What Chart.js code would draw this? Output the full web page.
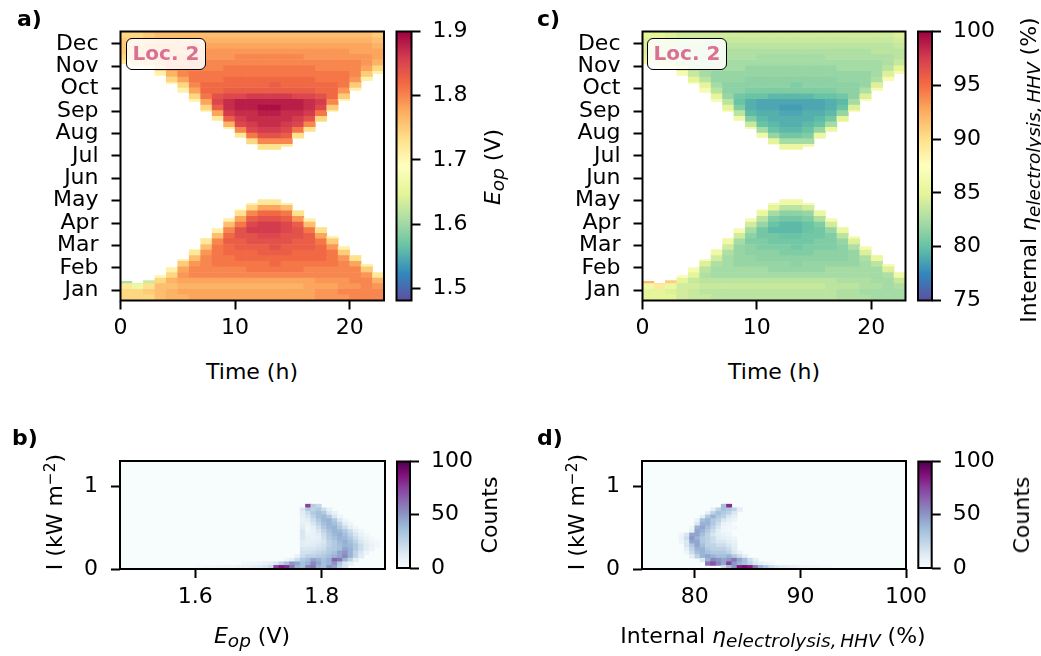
<!DOCTYPE html>
<html>
<head>
<meta charset="utf-8">
<script src="https://cdn.jsdelivr.net/npm/chart.js@4.4.1/dist/chart.umd.min.js"></script>
<style>
body { margin: 0; background: #fff; width: 1041px; height: 656px; position: relative; overflow: hidden; font-family: 'DejaVu Sans'; }
canvas { position: absolute; }
.t { position: absolute; font-size: 22px; line-height: 1; white-space: nowrap; color: #000; }
.b { font-weight: bold; }
.c { transform: translateX(-50%); }
.r { transform: translate(-50%, -50%) rotate(-90deg); }
.t sub { font-size: 84%; vertical-align: baseline; position: relative; top: 0.22em; font-style: italic; }
.t sup { font-size: 70%; vertical-align: baseline; position: relative; top: -0.45em; }
.loc { position: absolute; box-sizing: border-box; width: 80px; height: 32px; border: 1.5px solid #000; border-radius: 6px;
       background: rgba(255,255,255,0.85); color: palevioletred; font: bold 20px 'DejaVu Sans'; line-height: 29px; text-align: center; }
</style>
</head>
<body>
<canvas id="ca" width="400" height="350" style="left:0;top:0"></canvas>
<canvas id="cba" width="90" height="350" style="left:388px;top:0"></canvas>
<canvas id="cc" width="400" height="350" style="left:520px;top:0"></canvas>
<canvas id="cbc" width="100" height="350" style="left:910px;top:0"></canvas>
<canvas id="cb" width="400" height="236" style="left:0;top:420px"></canvas>
<canvas id="cbb" width="90" height="236" style="left:388px;top:420px"></canvas>
<canvas id="cd" width="420" height="236" style="left:520px;top:420px"></canvas>
<canvas id="cbd" width="100" height="236" style="left:910px;top:420px"></canvas>

<div class="t b" style="left:17px;top:8px">a)</div>
<div class="t b" style="left:537px;top:8px">c)</div>
<div class="t b" style="left:12px;top:427px">b)</div>
<div class="t b" style="left:537px;top:427px">d)</div>

<div class="loc" style="left:126px;top:38px">Loc. 2</div>
<div class="loc" style="left:647px;top:38px">Loc. 2</div>

<div class="t c" style="left:252px;top:361px">Time (h)</div>
<div class="t c" style="left:774px;top:361px">Time (h)</div>
<div class="t r" style="left:493px;top:167px"><i>E</i><sub>op</sub> (V)</div>
<div class="t r" style="left:1029px;top:170px">Internal <i>η</i><sub>electrolysis,&thinsp;HHV</sub> (%)</div>

<div class="t c" style="left:252px;top:625px"><i>E</i><sub>op</sub> (V)</div>
<div class="t c" style="left:773px;top:625px">Internal <i>η</i><sub>electrolysis,&thinsp;HHV</sub> (%)</div>
<div class="t r" style="left:55px;top:512px">I (kW m<sup>−2</sup>)</div>
<div class="t r" style="left:577px;top:512px">I (kW m<sup>−2</sup>)</div>
<div class="t r" style="left:490px;top:515px">Counts</div>
<div class="t r" style="left:1022px;top:515px">Counts</div>

<script>
// ---- heatmap axes ----
const hours = [0,1,2,3,4,5,6,7,8,9,10,11,12,13,14,15,16,17,18,19,20,21,22];
const timeTicks = [0, 10, 20];
const months = ['Jan','Feb','Mar','Apr','May','Jun','Jul','Aug','Sep','Oct','Nov','Dec'];
const monthTicks = [0.45,1.45,2.45,3.45,4.45,5.45,6.45,7.45,8.45,9.45,10.45,11.45];
const rowStep = 0.25; // quarter-month rows

// operating window per hour (in months from 1 Jan)
const janMayEnd = [0.85,0.76,0.89,1.12,1.47,1.83,2.27,2.77,3.21,3.66,4.06,4.33,4.50,4.50,4.33,4.01,3.66,3.26,2.85,2.41,2.01,1.61,1.25];
const julDecStart = [10.57,10.44,10.35,10.04,9.68,9.28,8.88,8.43,8.03,7.67,7.27,6.96,6.73,6.73,6.87,7.23,7.54,7.98,8.43,8.92,9.37,9.81,10.12];

// E_op (V) per hour, rows from 1 Jan upwards
const eopJanMay = [
  [1.74,1.74,1.72,1.61],
  [1.74,1.74,1.66,1.62],
  [1.74,1.75,1.73,1.63],
  [1.76,1.76,1.76,1.74,1.70],
  [1.77,1.77,1.76,1.77,1.74,1.71],
  [1.77,1.78,1.77,1.78,1.79,1.78,1.75,1.71],
  [1.78,1.78,1.77,1.78,1.80,1.80,1.79,1.76,1.72,1.70],
  [1.78,1.78,1.77,1.78,1.80,1.80,1.80,1.80,1.79,1.76,1.72,1.70],
  [1.78,1.78,1.77,1.78,1.80,1.80,1.81,1.81,1.81,1.81,1.80,1.76,1.71],
  [1.78,1.78,1.77,1.78,1.80,1.80,1.81,1.81,1.82,1.82,1.83,1.82,1.80,1.76,1.71],
  [1.78,1.78,1.77,1.78,1.80,1.80,1.81,1.82,1.82,1.83,1.83,1.84,1.84,1.81,1.78,1.73,1.70],
  [1.78,1.78,1.77,1.78,1.80,1.81,1.81,1.82,1.82,1.83,1.84,1.84,1.86,1.85,1.83,1.80,1.74,1.71],
  [1.78,1.78,1.77,1.78,1.80,1.81,1.81,1.82,1.83,1.83,1.84,1.85,1.86,1.86,1.84,1.82,1.78,1.72],
  [1.78,1.78,1.77,1.78,1.80,1.81,1.82,1.82,1.83,1.84,1.84,1.85,1.86,1.86,1.84,1.82,1.78,1.72],
  [1.78,1.78,1.77,1.78,1.80,1.81,1.81,1.82,1.83,1.83,1.84,1.84,1.85,1.85,1.83,1.81,1.76,1.71],
  [1.78,1.78,1.77,1.78,1.80,1.81,1.81,1.82,1.82,1.83,1.83,1.84,1.84,1.83,1.79,1.73,1.70],
  [1.78,1.78,1.78,1.78,1.80,1.80,1.81,1.82,1.82,1.83,1.83,1.83,1.81,1.76,1.71],
  [1.79,1.79,1.78,1.79,1.80,1.80,1.81,1.82,1.82,1.82,1.81,1.78,1.73,1.70],
  [1.79,1.79,1.78,1.79,1.80,1.80,1.81,1.81,1.81,1.79,1.75,1.71],
  [1.79,1.80,1.79,1.79,1.80,1.80,1.80,1.79,1.75,1.71],
  [1.80,1.80,1.79,1.80,1.80,1.80,1.78,1.73,1.70],
  [1.80,1.80,1.80,1.80,1.79,1.75,1.71],
  [1.80,1.80,1.79,1.77,1.72]
];
// E_op (V) per hour, rows from 31 Dec downwards
const eopJulDec = [
  [1.74,1.75,1.75,1.75,1.74,1.72],
  [1.74,1.75,1.76,1.76,1.76,1.74,1.71],
  [1.75,1.76,1.77,1.77,1.77,1.75,1.71],
  [1.76,1.77,1.78,1.78,1.78,1.78,1.75,1.71],
  [1.76,1.77,1.78,1.78,1.79,1.79,1.79,1.77,1.74,1.71],
  [1.76,1.77,1.78,1.78,1.79,1.79,1.80,1.80,1.78,1.74,1.71],
  [1.76,1.77,1.78,1.78,1.79,1.80,1.80,1.81,1.81,1.80,1.78,1.74,1.71],
  [1.76,1.77,1.78,1.79,1.79,1.80,1.80,1.81,1.81,1.82,1.82,1.81,1.78,1.74,1.71],
  [1.76,1.77,1.78,1.79,1.79,1.80,1.80,1.81,1.81,1.82,1.82,1.84,1.85,1.83,1.78,1.72],
  [1.76,1.77,1.78,1.79,1.79,1.80,1.81,1.81,1.82,1.82,1.83,1.85,1.87,1.87,1.86,1.83,1.77,1.71],
  [1.76,1.77,1.78,1.79,1.80,1.80,1.81,1.81,1.82,1.82,1.83,1.85,1.88,1.88,1.87,1.86,1.85,1.80,1.72],
  [1.76,1.77,1.78,1.79,1.80,1.80,1.81,1.81,1.82,1.82,1.83,1.86,1.88,1.88,1.87,1.87,1.86,1.85,1.81,1.74,1.70],
  [1.76,1.77,1.78,1.79,1.80,1.80,1.81,1.81,1.82,1.82,1.83,1.86,1.88,1.89,1.88,1.87,1.87,1.86,1.84,1.80,1.73,1.70],
  [1.76,1.77,1.78,1.79,1.80,1.80,1.81,1.81,1.82,1.83,1.83,1.86,1.88,1.89,1.88,1.87,1.87,1.86,1.84,1.80,1.73,1.70],
  [1.76,1.77,1.78,1.79,1.80,1.80,1.81,1.81,1.82,1.82,1.83,1.86,1.88,1.88,1.87,1.87,1.86,1.85,1.83,1.80,1.72],
  [1.76,1.77,1.78,1.79,1.80,1.80,1.81,1.81,1.82,1.82,1.83,1.85,1.88,1.88,1.87,1.86,1.85,1.81,1.73,1.70],
  [1.76,1.77,1.78,1.79,1.79,1.80,1.81,1.81,1.82,1.82,1.83,1.85,1.87,1.87,1.86,1.84,1.80,1.73],
  [1.76,1.77,1.78,1.79,1.79,1.80,1.80,1.81,1.81,1.82,1.82,1.84,1.86,1.85,1.81,1.74,1.70],
  [1.76,1.77,1.78,1.79,1.79,1.80,1.80,1.81,1.81,1.82,1.82,1.82,1.80,1.75,1.71],
  [1.76,1.77,1.78,1.79,1.79,1.80,1.80,1.81,1.81,1.81,1.79,1.75,1.71],
  [1.76,1.77,1.78,1.78,1.79,1.80,1.80,1.80,1.79,1.75,1.71],
  [1.76,1.77,1.78,1.78,1.79,1.79,1.78,1.75,1.71],
  [1.75,1.76,1.77,1.78,1.78,1.77,1.74,1.71]
];

// internal efficiency (%) per hour, rows from 1 Jan upwards
const etaJanMay = [
  [85.1,85.1,86.1,92.0],
  [85.1,85.1,89.2,91.4],
  [85.1,84.6,85.6,90.9],
  [84.1,84.1,84.1,85.1,87.1],
  [83.7,83.7,84.1,83.7,85.1,86.6],
  [83.7,83.2,83.7,83.2,82.7,83.2,84.6,86.6],
  [83.2,83.2,83.7,83.2,82.3,82.3,82.7,84.1,86.1,87.1],
  [83.2,83.2,83.7,83.2,82.3,82.3,82.3,82.3,82.7,84.1,86.1,87.1],
  [83.2,83.2,83.7,83.2,82.3,82.3,81.8,81.8,81.8,81.8,82.3,84.1,86.6],
  [83.2,83.2,83.7,83.2,82.3,82.3,81.8,81.8,81.4,81.4,80.9,81.4,82.3,84.1,86.6],
  [83.2,83.2,83.7,83.2,82.3,82.3,81.8,81.4,81.4,80.9,80.9,80.5,80.5,81.8,83.2,85.6,87.1],
  [83.2,83.2,83.7,83.2,82.3,81.8,81.8,81.4,81.4,80.9,80.5,80.5,79.6,80.1,80.9,82.3,85.1,86.6],
  [83.2,83.2,83.7,83.2,82.3,81.8,81.8,81.4,80.9,80.9,80.5,80.1,79.6,79.6,80.5,81.4,83.2,86.1],
  [83.2,83.2,83.7,83.2,82.3,81.8,81.4,81.4,80.9,80.5,80.5,80.1,79.6,79.6,80.5,81.4,83.2,86.1],
  [83.2,83.2,83.7,83.2,82.3,81.8,81.8,81.4,80.9,80.9,80.5,80.5,80.1,80.1,80.9,81.8,84.1,86.6],
  [83.2,83.2,83.7,83.2,82.3,81.8,81.8,81.4,81.4,80.9,80.9,80.5,80.5,80.9,82.7,85.6,87.1],
  [83.2,83.2,83.2,83.2,82.3,82.3,81.8,81.4,81.4,80.9,80.9,80.9,81.8,84.1,86.6],
  [82.7,82.7,83.2,82.7,82.3,82.3,81.8,81.4,81.4,81.4,81.8,83.2,85.6,87.1],
  [82.7,82.7,83.2,82.7,82.3,82.3,81.8,81.8,81.8,82.7,84.6,86.6],
  [82.7,82.3,82.7,82.7,82.3,82.3,82.3,82.7,84.6,86.6],
  [82.3,82.3,82.7,82.3,82.3,82.3,83.2,85.6,87.1],
  [82.3,82.3,82.3,82.3,82.7,84.6,86.6],
  [82.3,82.3,82.7,83.7,86.1]
];
// internal efficiency (%) per hour, rows from 31 Dec downwards
const etaJulDec = [
  [85.1,84.6,84.6,84.6,85.1,86.1],
  [85.1,84.6,84.1,84.1,84.1,85.1,86.6],
  [84.6,84.1,83.7,83.7,83.7,84.6,86.6],
  [84.1,83.7,83.2,83.2,83.2,83.2,84.6,86.6],
  [84.1,83.7,83.2,83.2,82.7,82.7,82.7,83.7,85.1,86.6],
  [84.1,83.7,83.2,83.2,82.7,82.7,82.3,82.3,83.2,85.1,86.6],
  [84.1,83.7,83.2,83.2,82.7,82.3,82.3,81.8,81.8,82.3,83.2,85.1,86.6],
  [84.1,83.7,83.2,82.7,82.7,82.3,82.3,81.8,81.8,81.4,81.4,81.8,83.2,85.1,86.6],
  [84.1,83.7,83.2,82.7,82.7,82.3,82.3,81.8,81.8,81.4,81.4,80.5,80.1,80.9,83.2,86.1],
  [84.1,83.7,83.2,82.7,82.7,82.3,81.8,81.8,81.4,81.4,80.9,80.1,79.2,79.2,79.6,80.9,83.7,86.6],
  [84.1,83.7,83.2,82.7,82.3,82.3,81.8,81.8,81.4,81.4,80.9,80.1,78.8,78.8,79.2,79.6,80.1,82.3,86.1],
  [84.1,83.7,83.2,82.7,82.3,82.3,81.8,81.8,81.4,81.4,80.9,79.6,78.8,78.8,79.2,79.2,79.6,80.1,81.8,85.1,87.1],
  [84.1,83.7,83.2,82.7,82.3,82.3,81.8,81.8,81.4,81.4,80.9,79.6,78.8,78.4,78.8,79.2,79.2,79.6,80.5,82.3,85.6,87.1],
  [84.1,83.7,83.2,82.7,82.3,82.3,81.8,81.8,81.4,80.9,80.9,79.6,78.8,78.4,78.8,79.2,79.2,79.6,80.5,82.3,85.6,87.1],
  [84.1,83.7,83.2,82.7,82.3,82.3,81.8,81.8,81.4,81.4,80.9,79.6,78.8,78.8,79.2,79.2,79.6,80.1,80.9,82.3,86.1],
  [84.1,83.7,83.2,82.7,82.3,82.3,81.8,81.8,81.4,81.4,80.9,80.1,78.8,78.8,79.2,79.6,80.1,81.8,85.6,87.1],
  [84.1,83.7,83.2,82.7,82.7,82.3,81.8,81.8,81.4,81.4,80.9,80.1,79.2,79.2,79.6,80.5,82.3,85.6],
  [84.1,83.7,83.2,82.7,82.7,82.3,82.3,81.8,81.8,81.4,81.4,80.5,79.6,80.1,81.8,85.1,87.1],
  [84.1,83.7,83.2,82.7,82.7,82.3,82.3,81.8,81.8,81.4,81.4,81.4,82.3,84.6,86.6],
  [84.1,83.7,83.2,82.7,82.7,82.3,82.3,81.8,81.8,81.8,82.7,84.6,86.6],
  [84.1,83.7,83.2,83.2,82.7,82.3,82.3,82.3,82.7,84.6,86.6],
  [84.1,83.7,83.2,83.2,82.7,82.7,83.2,84.6,86.6],
  [84.6,84.1,83.7,83.2,83.2,83.7,85.1,86.6]
];

// ---- colour ranges and colourbar ticks ----
const eopRange = [1.481, 1.9];
const etaRange = [75, 100];
const eopTicksCb = [1.5, 1.6, 1.7, 1.8, 1.9];
const etaTicksCb = [75, 80, 85, 90, 95, 100];
const countRange = [0, 100];
const countTicks = [0, 50, 100];

// ---- 2D histograms: [irradiance bin, first x bin, counts...] ----
const irrRange = [0, 1.31];
const irrBins = 30;
const irrTicks = [0, 1];
const xBins = 50;
const eopTicksHist = [1.6, 1.8];
const etaTicksHist = [80, 90, 100];
const countsEop = [
  [0, 14, [2,2,3,3,4,4,5,5,6,7,8,10,12,15,20,75,85,80,60,40,35,55,60,40,35,50,45,25,15]],
  [1, 23, [3,4,5,6,8,10,15,25,35,50,45,35,40,55,45,35,40,50,30,15,8]],
  [2, 31, [5,10,20,30,35,45,40,35,40,65,60,40,25,10]],
  [3, 33, [8,20,25,25,28,30,35,40,45,55,40,25,12]],
  [4, 34, [18,18,20,22,25,30,35,45,50,40,25,15,6]],
  [5, 34, [15,15,15,18,20,28,30,35,45,40,30,20,12,6]],
  [6, 34, [12,12,12,15,18,25,30,35,40,38,30,20,12,8,4]],
  [7, 34, [12,10,10,12,15,25,30,38,42,35,25,15,10,5,3]],
  [8, 34, [15,10,8,10,18,28,35,40,38,30,20,12,6,3]],
  [9, 34, [15,8,8,12,20,30,38,42,35,25,15,8,3]],
  [10, 34, [15,5,8,15,25,35,40,38,30,20,10,4]],
  [11, 34, [12,5,10,20,30,38,40,30,20,10,4]],
  [12, 34, [10,8,15,25,35,40,35,25,12,5]],
  [13, 34, [8,12,20,30,38,40,30,15,5]],
  [14, 34, [10,15,25,35,38,30,15,5]],
  [15, 34, [12,20,30,35,30,15,8]],
  [16, 34, [15,30,25,30,20,8]],
  [17, 35, [75,28,22]]
];
const countsEta = [
  [0, 15, [20,35,50,85,90,85,60,40,30,20,15,12,10,8,6,5,4,3,3,2,2]],
  [1, 12, [60,70,55,45,75,50,40,35,25,15,10,6,4]],
  [2, 11, [15,40,55,50,45,50,60,45,35,20,10]],
  [3, 9, [10,25,40,45,40,35,35,40,30,20,10]],
  [4, 8, [5,20,35,40,35,30,30,30,25,15,8]],
  [5, 8, [10,25,40,40,30,25,25,25,20,12]],
  [6, 8, [15,30,45,35,25,25,20,20,15,10]],
  [7, 7, [5,15,45,45,30,25,20,15,15,10,8]],
  [8, 7, [8,20,50,40,30,25,20,12,10,8,5]],
  [9, 7, [5,15,45,45,35,25,15,10,8,5]],
  [10, 9, [8,45,40,30,20,10,5,3]],
  [11, 9, [5,40,45,35,25,15,5,3,3]],
  [12, 10, [15,40,40,30,20,8,5]],
  [13, 10, [8,35,40,30,25,15,10,5]],
  [14, 11, [10,30,40,30,25,15,10]],
  [15, 12, [10,25,35,30,25,15]],
  [16, 13, [10,25,35,30,25,10]],
  [17, 15, [35,80]]
];

// ---- colour maps ----
const SPECTRAL_R = ['#5e4fa2','#3288bd','#66c2a5','#abdda4','#e6f598','#ffffbf','#fee08b','#fdae61','#f46d43','#d53e4f','#9e0142'];
const BUPU = ['#f7fcfd','#e0ecf4','#bfd3e6','#9ebcda','#8c96c6','#8c6bb1','#88419d','#810f7c','#4d004b'];

function hexRgb(c) { return [1, 3, 5].map(i => parseInt(c.substr(i, 2), 16)); }
function colormap(stops) {
  const rgb = stops.map(hexRgb);
  return t => {
    t = Math.min(1, Math.max(0, t));
    const x = t * (rgb.length - 1), i = Math.min(rgb.length - 2, Math.floor(x)), f = x - i;
    const c = rgb[i].map((v, k) => Math.round(v + (rgb[i + 1][k] - v) * f));
    return 'rgb(' + c.join(',') + ')';
  };
}

// frame around each plot area (+ optional background)
const framePlugin = {
  id: 'frame',
  beforeDatasetsDraw(chart, args, opts) {
    if (!opts.fill) return;
    const a = chart.chartArea, ctx = chart.ctx;
    ctx.save(); ctx.fillStyle = opts.fill;
    ctx.fillRect(a.left, a.top, a.right - a.left, a.bottom - a.top);
    ctx.restore();
  },
  afterDraw(chart) {
    const a = chart.chartArea, ctx = chart.ctx;
    ctx.save(); ctx.strokeStyle = '#000'; ctx.lineWidth = 2;
    ctx.strokeRect(a.left, a.top, a.right - a.left, a.bottom - a.top);
    ctx.restore();
  }
};
Chart.register(framePlugin);
Chart.defaults.font.family = 'DejaVu Sans';
Chart.defaults.color = '#000';

function axis(position, min, max, ticks, labels, fit, pad) {
  return {
    type: 'linear', position, min, max, offset: false,
    afterBuildTicks: s => { s.ticks = ticks.map(v => ({ value: v })); },
    afterFit: fit,
    ticks: { autoSkip: false, maxRotation: 0, padding: pad, font: { size: 22, lineHeight: 1 }, callback: (v, i) => labels[i] },
    grid: { offset: false, drawOnChartArea: false, drawTicks: true, tickLength: 9, tickWidth: 2, tickColor: '#000' },
    border: { display: false }
  };
}

function baseOptions(padding, fill) {
  return {
    responsive: false, animation: false, events: [],
    layout: { padding },
    plugins: { legend: { display: false }, tooltip: { enabled: false }, frame: { fill } },
    datasets: { bar: { barPercentage: 1, categoryPercentage: 1, grouped: false, borderWidth: 0 } }
  };
}

function heatChart(id, lowRows, highRows, range, yWidth, padRight) {
  const cm = colormap(SPECTRAL_R);
  const col = v => cm((v - range[0]) / (range[1] - range[0]));
  const sets = [];
  const nLow = Math.max(...lowRows.map(c => c.length));
  for (let r = 0; r < nLow; r++) {
    sets.push({
      data: lowRows.map((c, h) => r < c.length ? [r * rowStep, Math.min((r + 1) * rowStep, janMayEnd[h])] : null),
      backgroundColor: lowRows.map(c => r < c.length ? col(c[r]) : 'transparent')
    });
  }
  const nHigh = Math.max(...highRows.map(c => c.length));
  for (let r = 0; r < nHigh; r++) {
    sets.push({
      data: highRows.map((c, h) => r < c.length ? [Math.max(12 - (r + 1) * rowStep, julDecStart[h]), 12 - r * rowStep] : null),
      backgroundColor: highRows.map(c => r < c.length ? col(c[r]) : 'transparent')
    });
  }
  const opt = baseOptions({ top: 31.5, right: padRight, left: 0, bottom: 0 });
  opt.scales = {
    x: { display: false, offset: true },
    xt: axis('bottom', 0, 23, timeTicks, timeTicks.map(String), s => { s.height = 49.5; }, 8),
    y: axis('left', 0, 12, monthTicks, months, s => { s.width = yWidth; }, 13)
  };
  new Chart(document.getElementById(id), { type: 'bar', data: { labels: hours, datasets: sets }, options: opt });
}

function colorbar(id, stops, range, ticks, labels, pad, barWidth, canvasW, bottomPad) {
  const opt = baseOptions({ top: pad.top, left: pad.left, right: 0, bottom: bottomPad });
  opt.scales = {
    x: { display: false, offset: true },
    y: axis('right', range[0], range[1], ticks, labels, s => { s.width = canvasW - pad.left - barWidth; }, 12)
  };
  new Chart(document.getElementById(id), {
    type: 'bar',
    data: {
      labels: [''],
      datasets: [{
        data: [[range[0], range[1]]],
        backgroundColor: c => {
          const a = c.chart.chartArea;
          if (!a) return 'transparent';
          const g = c.chart.ctx.createLinearGradient(0, a.bottom, 0, a.top);
          stops.forEach((s, i) => g.addColorStop(i / (stops.length - 1), s));
          return g;
        }
      }]
    },
    options: opt
  });
}

function histChart(id, rows, xRange, xTicks, xLabels, yWidth, padRight) {
  const cm = colormap(BUPU);
  const iStep = (irrRange[1] - irrRange[0]) / irrBins;
  const bins = Array.from({ length: xBins }, (_, i) => i);
  const sets = rows.map(([k, j0, counts]) => {
    const data = bins.map(() => null), bg = bins.map(() => 'transparent');
    counts.forEach((n, i) => {
      data[j0 + i] = [k * iStep, (k + 1) * iStep];
      bg[j0 + i] = cm((n - countRange[0]) / (countRange[1] - countRange[0]));
    });
    return { data, backgroundColor: bg };
  });
  const opt = baseOptions({ top: 41, right: padRight, left: 0, bottom: 0 }, BUPU[0]);
  opt.scales = {
    x: { display: false, offset: true },
    xt: axis('bottom', xRange[0], xRange[1], xTicks, xLabels, s => { s.height = 87; }, 8),
    y: axis('left', irrRange[0], irrRange[1], irrTicks, irrTicks.map(String), s => { s.width = yWidth; }, 13)
  };
  new Chart(document.getElementById(id), { type: 'bar', data: { labels: bins, datasets: sets }, options: opt });
}

heatChart('ca', eopJanMay, eopJulDec, eopRange, 120.5, 16);
heatChart('cc', etaJanMay, etaJulDec, etaRange, 122.5, 14.5);
colorbar('cba', SPECTRAL_R, eopRange, eopTicksCb, eopTicksCb.map(v => v.toFixed(1)), { top: 31.5, left: 8.5 }, 15, 90, 49.5);
colorbar('cbc', SPECTRAL_R, etaRange, etaTicksCb, etaTicksCb.map(String), { top: 31.5, left: 8 }, 14, 100, 49.5);

histChart('cb', countsEop, eopRange, eopTicksHist, eopTicksHist.map(v => v.toFixed(1)), 120, 15);
histChart('cd', countsEta, etaRange, etaTicksHist, etaTicksHist.map(String), 122, 34);
colorbar('cbb', BUPU, countRange, countTicks, countTicks.map(String), { top: 41.5, left: 9 }, 13, 90, 88);
colorbar('cbd', BUPU, countRange, countTicks, countTicks.map(String), { top: 41.5, left: 8.3 }, 13.4, 100, 88);
</script>
</body>
</html>
